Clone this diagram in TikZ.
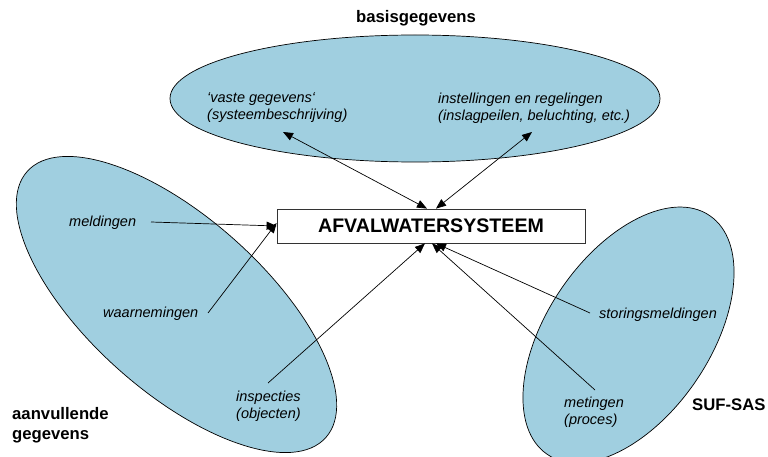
\documentclass[tikz,border=0pt]{standalone}
\usepackage{fontspec}
\setmainfont{Liberation Sans}
\usetikzlibrary{arrows.meta}
\definecolor{blob}{RGB}{160,207,224}
\tikzset{
  blobshape/.style={fill=blob,draw=black,line width=0.7pt},
  lbl/.style={inner sep=0pt,anchor=west,align=left,font=\fontsize{14.5}{17}\selectfont\itshape},
  grp/.style={inner sep=0pt,align=left,font=\fontsize{16.7}{20}\selectfont\bfseries},
  conn/.style={line width=0.7pt,-{Triangle[length=10pt,width=8pt]}},
  dconn/.style={line width=0.7pt,{Triangle[length=10pt,width=8pt]}-{Triangle[length=10pt,width=8pt]}},
  sysbox/.style={draw=black!80,fill=white,line width=0.8pt,minimum width=308pt,minimum height=34pt,inner sep=0pt,font=\fontsize{19.6}{22}\selectfont\bfseries}
}
\begin{document}
\begin{tikzpicture}[x=1pt,y=-1pt]
\useasboundingbox (0,0) rectangle (768,457);
% ellipses
\draw[blobshape] (415,98.5) ellipse [x radius=245pt,y radius=63.5pt];
\draw[blobshape,rotate around={-41.7:(176.5,304.5)}] (176.5,304.5) ellipse [x radius=200pt,y radius=87pt];
\draw[blobshape,rotate around={55.8:(628.5,335)}] (628.5,335) ellipse [x radius=144.4pt,y radius=81.6pt];
% group titles
\node[grp] (basis) at (416,18) {basisgegevens};
\node[grp,anchor=west] (aanv) at (12,425) {aanvullende\\gegevens};
\node[grp,anchor=west] (suf) at (692,405) {SUF-SAS};
% central box
\node[sysbox] (sys) at (431,226) {AFVALWATERSYSTEEM};
% labels
\node[lbl] (vaste) at (207,108) {‘vaste gegevens‘\\(systeembeschrijving)};
\node[lbl] (instel) at (438,108) {instellingen en regelingen\\(inslagpeilen, beluchting, etc.)};
\node[lbl] (meld) at (69,223) {meldingen};
\node[lbl] (waar) at (103,314) {waarnemingen};
\node[lbl] (insp) at (236,406) {inspecties\\(objecten)};
\node[lbl] (stor) at (599,315) {storingsmeldingen};
\node[lbl] (met) at (564,412) {metingen\\(proces)};
% connector ends
\coordinate (vasteend) at (283,132);
\coordinate (instelend) at (532,132);
\coordinate (meldend) at (151,222);
\coordinate (waarend) at (208,313);
\coordinate (inspend) at (268,383);
\coordinate (storend) at (590,313);
\coordinate (metend) at (595,390);
% connectors
\draw[dconn] ([xshift=-4pt]sys.north) -- (vasteend);
\draw[dconn] ([xshift=5pt]sys.north) -- (instelend);
\draw[conn] (meldend) -- (sys.west);
\draw[conn] (waarend) -- ([yshift=3pt]sys.west);
\draw[conn] (inspend) -- ([xshift=-6pt]sys.south);
\draw[conn] (metend) -- ([xshift=1pt]sys.south);
\draw[conn] (storend) -- ([xshift=5pt]sys.south);
\end{tikzpicture}
\end{document}
